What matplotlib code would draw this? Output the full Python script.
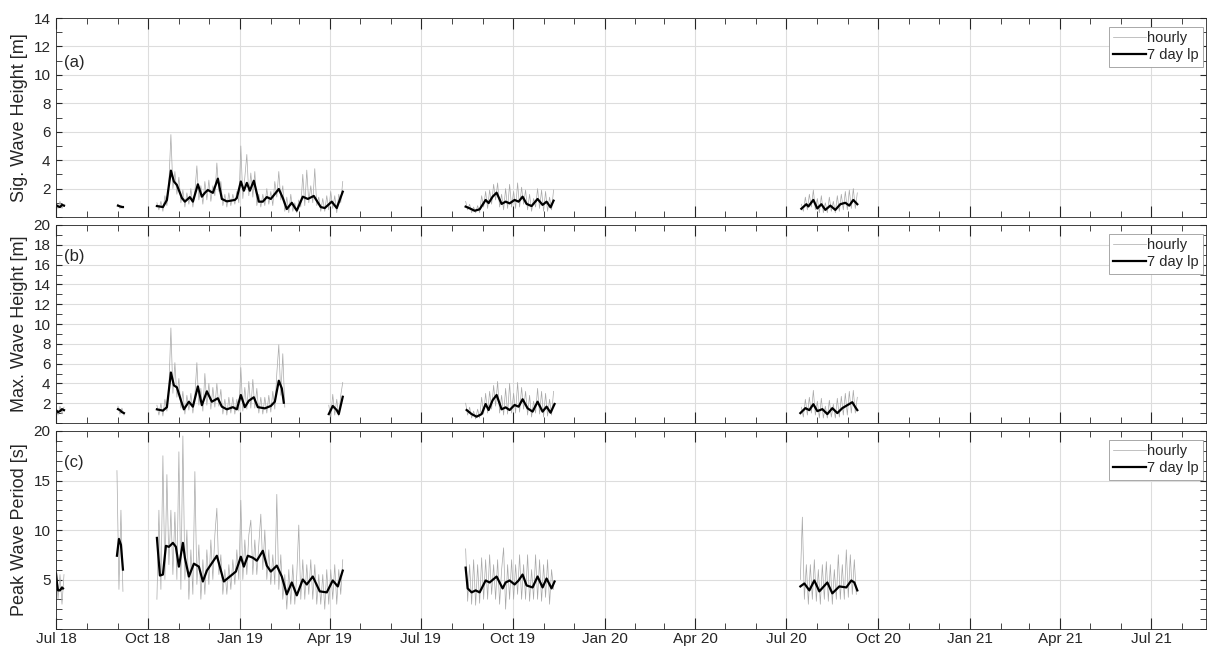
import numpy as np
import matplotlib
matplotlib.use('Agg')
import matplotlib.pyplot as plt
import matplotlib.dates as mdates
from matplotlib.ticker import MultipleLocator, FixedLocator
from datetime import datetime

plt.rcParams['font.family'] = ['Liberation Sans', 'DejaVu Sans']

# day offsets are counted from 1 Jul 2018, hourly samples are stored every 2 days
T0 = mdates.date2num(datetime(2018, 7, 1))
HR_STEP = 2

# (a) significant wave height [m]
hs_lp_days = [
    [0, 2, 4, 6, 8],
    [62, 64, 66, 67],
    [101, 107, 111, 115, 118, 121, 126, 129, 134, 137, 142, 146, 149, 152, 157, 162, 166, 171, 179, 181,
     185, 188, 191, 194, 198, 203, 207, 211, 215, 223, 227, 231, 236, 241, 247, 252, 258, 265, 269, 276,
     281, 287],
    [410, 414, 419, 424, 430, 433, 437, 441, 446, 450, 454, 459, 463, 467, 471, 476, 482, 487, 491, 495, 498],
    [746, 751, 753, 758, 762, 766, 770, 775, 780, 785, 790, 794, 798, 802],
]
hs_lp = [
    [0.85, 0.75, 0.7, 0.85, 0.8],
    [0.8, 0.75, 0.7, 0.7],
    [0.77, 0.7, 1.2, 3.26, 2.5, 2.25, 1.34, 1.08, 1.4, 1.08, 2.3, 1.43, 1.7, 1.9, 1.7, 2.7, 1.27, 1.1, 1.2, 1.34,
     2.5, 1.85, 2.4, 1.85, 2.55, 1.08, 1.08, 1.4, 1.27, 1.97, 1.34, 0.56, 1.0, 0.45, 1.43, 1.27, 1.48, 0.7, 0.63, 1.08,
     0.63, 1.78],
    [0.73, 0.61, 0.44, 0.54, 1.2, 0.98, 1.43, 1.71, 0.92, 1.08, 0.96, 1.2, 1.08, 1.43, 0.92, 0.77, 1.27, 0.85, 1.08, 0.68, 1.15],
    [0.58, 0.9, 0.74, 1.2, 0.6, 0.9, 0.5, 0.8, 0.5, 0.9, 1.0, 0.8, 1.2, 0.9],
]
hs_hr_start = [0, 62, 101, 410, 746]
hs_hr = [
    [1.0, 0.6, 1.1, 0.6, 0.9],
    [0.9, 0.6, 0.8],
    [1.0, 0.5, 1.1, 0.4, 1.5, 0.8, 2.4, 5.8, 2.0, 3.2, 1.6, 2.8, 1.0, 1.9, 0.7, 1.7, 0.9, 2.0, 0.7, 1.8,
     3.6, 1.2, 2.2, 0.9, 2.5, 1.2, 2.6, 1.1, 2.2, 1.5, 3.8, 1.8, 2.5, 0.8, 1.6, 0.7, 1.7, 0.8, 1.6, 0.9,
     1.8, 1.0, 5.0, 1.3, 2.8, 4.4, 1.5, 3.1, 1.4, 3.2, 0.8, 1.6, 0.7, 1.6, 0.8, 2.0, 0.9, 1.8, 0.8, 2.5,
     1.4, 3.2, 1.2, 2.2, 0.4, 1.4, 0.3, 1.6, 0.4, 1.0, 0.3, 1.2, 0.7, 3.0, 0.8, 3.3, 1.0, 2.2, 1.0, 3.4,
     0.8, 1.4, 0.4, 1.3, 0.4, 1.5, 0.5, 1.8, 0.6, 1.5, 0.3, 1.6, 1.0, 2.5],
    [1.1, 0.5, 0.9, 0.3, 0.7, 0.3, 0.8, 0.3, 1.5, 0.7, 1.8, 0.6, 1.9, 0.9, 2.3, 1.2, 2.4, 0.7, 1.6, 0.5,
     2.0, 0.6, 2.3, 0.7, 1.8, 0.6, 2.4, 0.7, 2.1, 0.9, 1.9, 0.5, 1.6, 0.4, 1.3, 0.7, 2.0, 0.6, 1.9, 0.4,
     1.8, 0.4, 1.4, 0.5, 1.9],
    [0.9, 0.4, 1.4, 0.5, 1.6, 0.7, 1.9, 0.5, 1.3, 0.3, 1.5, 0.3, 1.0, 0.3, 1.4, 0.4, 1.1, 0.3, 1.5, 0.4,
     1.6, 0.5, 1.8, 0.5, 1.9, 0.6, 2.0, 0.6, 1.7],
]

# (b) maximum wave height [m]
hm_lp_days = [
    [0, 2, 4, 6, 8],
    [62, 64, 66, 68],
    [101, 107, 111, 115, 118, 121, 125, 128, 133, 137, 142, 146, 151, 156, 162, 166, 171, 177, 181, 185,
     189, 193, 198, 202, 209, 215, 219, 223, 226, 228],
    [273, 277, 281, 283, 287],
    [411, 416, 421, 426, 430, 433, 437, 441, 446, 450, 454, 459, 463, 467, 472, 477, 482, 487, 491, 495, 499],
    [745, 750, 754, 758, 762, 767, 772, 777, 782, 787, 792, 797, 800, 802],
]
hm_lp = [
    [1.3, 1.1, 1.2, 1.4, 1.3],
    [1.4, 1.3, 1.1, 1.0],
    [1.38, 1.25, 1.6, 5.1, 3.8, 3.6, 2.3, 1.38, 2.15, 1.65, 3.7, 1.8, 3.2, 2.15, 2.5, 1.65, 1.38, 1.6, 1.38, 2.83,
     1.6, 2.25, 2.6, 1.6, 1.48, 1.72, 2.15, 4.27, 3.5, 2.05],
    [0.9, 1.72, 1.3, 0.9, 2.65],
    [1.31, 0.9, 0.64, 0.9, 1.92, 1.31, 2.3, 2.83, 1.38, 1.58, 1.31, 1.82, 1.65, 2.4, 1.48, 1.15, 2.15, 1.15, 1.65, 1.04, 1.92],
    [1.0, 1.5, 1.3, 1.9, 1.2, 1.4, 0.9, 1.5, 1.0, 1.5, 1.8, 2.1, 1.6, 1.3],
]
hm_hr_start = [0, 62, 101, 273, 410, 746]
hm_hr = [
    [1.6, 0.8, 1.7, 0.9, 1.6],
    [1.7, 0.9, 1.5, 0.8],
    [1.8, 0.8, 2.0, 0.7, 2.4, 1.2, 3.5, 9.6, 3.0, 6.1, 2.6, 4.5, 1.5, 3.2, 0.9, 2.8, 1.3, 3.0, 1.0, 2.8,
     6.1, 1.8, 3.5, 1.2, 5.0, 1.8, 4.0, 1.4, 3.6, 1.6, 4.0, 1.7, 3.4, 0.9, 2.4, 0.8, 2.6, 1.0, 2.6, 0.9,
     2.4, 1.2, 5.6, 1.2, 3.6, 1.4, 4.2, 1.5, 4.4, 1.5, 3.5, 1.0, 2.6, 0.9, 2.6, 1.0, 2.8, 1.1, 3.2, 1.4,
     5.0, 7.9, 2.8, 7.0, 1.6],
    [1.8, 0.6, 2.9, 0.8, 2.4, 0.7, 2.8, 4.1],
    [2.0, 0.8, 1.6, 0.5, 1.2, 0.4, 1.4, 0.5, 2.6, 0.9, 3.0, 1.0, 3.2, 1.4, 3.8, 1.7, 4.2, 1.0, 2.8, 0.8,
     3.5, 0.9, 4.0, 1.0, 3.0, 1.0, 4.1, 1.1, 3.6, 1.4, 3.2, 0.8, 2.8, 0.6, 2.2, 1.0, 3.5, 0.9, 3.2, 0.6,
     3.0, 0.7, 2.4, 0.8, 3.2],
    [1.6, 0.6, 2.4, 0.8, 2.6, 1.0, 3.3, 0.8, 2.2, 0.5, 2.5, 0.5, 1.7, 0.5, 2.3, 0.6, 1.9, 0.5, 2.5, 0.6,
     2.7, 0.8, 3.0, 0.8, 3.2, 1.0, 3.3, 1.0, 2.6],
]

# (c) peak wave period [s]
tp_lp_days = [
    [0, 1, 2, 4, 6, 7],
    [61, 63, 65, 67],
    [101, 104, 107, 110, 113, 117, 120, 123, 127, 129, 133, 138, 143, 147, 151, 157, 161, 168, 174, 180,
     185, 188, 192, 197, 201, 207, 211, 215, 221, 226, 231, 236, 241, 247, 251, 257, 264, 271, 277, 282, 287],
    [410, 412, 416, 420, 424, 430, 434, 441, 447, 450, 454, 459, 463, 467, 471, 477, 482, 487, 491, 496, 499],
    [745, 749, 754, 759, 764, 772, 777, 784, 791, 796, 799, 802],
]
tp_lp = [
    [5.6, 4.6, 3.9, 3.9, 4.2, 4.1],
    [7.4, 9.1, 8.5, 6.0],
    [9.2, 5.4, 5.5, 8.4, 8.3, 8.7, 8.3, 6.3, 8.7, 7.2, 5.3, 6.6, 6.3, 4.8, 5.9, 6.8, 7.4, 4.8, 5.3, 5.8,
     7.3, 6.3, 7.4, 7.2, 6.9, 7.9, 6.4, 5.8, 6.4, 5.3, 3.5, 4.7, 3.4, 5.0, 4.5, 5.3, 3.8, 3.7, 4.9, 4.3, 5.9],
    [6.2, 4.1, 3.7, 3.9, 3.7, 4.9, 4.7, 5.3, 4.1, 4.7, 4.9, 4.5, 4.9, 5.5, 4.4, 4.2, 5.3, 4.2, 5.1, 4.1, 4.8],
    [4.3, 4.6, 3.9, 4.9, 3.8, 4.7, 3.6, 4.3, 4.2, 4.9, 4.7, 3.9],
]
tp_hr_start = [0, 61, 101, 410, 745]
tp_hr = [
    [7.0, 3.0, 5.5, 2.5, 5.5],
    [16.0, 4.0, 12.0, 3.8],
    [3.0, 12.0, 4.0, 17.5, 5.0, 15.6, 6.5, 12.0, 5.5, 11.8, 5.0, 17.9, 4.0, 19.5, 5.0, 10.0, 3.0, 8.0, 3.5, 15.9,
     4.5, 8.5, 3.0, 7.0, 3.5, 8.0, 4.5, 9.0, 5.0, 9.5, 12.2, 5.5, 7.5, 3.5, 6.0, 3.5, 6.5, 4.0, 7.0, 4.5,
     8.0, 5.0, 13.0, 5.0, 9.0, 5.5, 9.5, 11.0, 5.5, 9.0, 5.5, 8.5, 11.6, 6.0, 10.0, 5.0, 8.0, 4.5, 7.5, 4.5,
     13.6, 4.0, 7.5, 3.0, 5.5, 2.0, 6.0, 2.5, 6.5, 2.5, 5.5, 10.5, 3.0, 7.0, 3.0, 6.5, 3.5, 7.0, 3.0, 6.5,
     2.5, 5.5, 2.5, 5.5, 2.0, 6.0, 2.5, 6.0, 3.0, 6.5, 2.5, 6.0, 3.5, 7.0],
    [8.1, 2.8, 6.5, 2.5, 7.0, 2.4, 6.5, 2.6, 7.2, 3.0, 7.0, 3.0, 7.5, 3.5, 6.5, 3.0, 7.0, 2.5, 6.0, 8.2,
     2.0, 6.5, 3.0, 7.0, 3.0, 6.5, 3.5, 7.5, 3.0, 6.5, 3.0, 7.5, 2.8, 6.0, 3.0, 7.5, 3.0, 7.0, 2.8, 6.5,
     3.2, 7.0, 2.5, 6.0, 4.0],
    [5.0, 11.3, 3.0, 6.5, 2.5, 6.5, 3.0, 7.0, 2.8, 6.0, 2.5, 6.5, 3.0, 6.8, 2.8, 6.5, 2.5, 6.0, 3.0, 7.5,
     3.0, 6.5, 3.0, 8.0, 3.2, 7.5, 3.5, 7.0, 3.5],
]


def join_lp(day_lists, val_lists):
    xs, ys = [], []
    for d, v in zip(day_lists, val_lists):
        xs += list(d) + [d[-1]]
        ys += list(v) + [np.nan]
    return T0 + np.array(xs, float), np.array(ys, float)


def join_hr(starts, val_lists):
    xs, ys = [], []
    for s, v in zip(starts, val_lists):
        d = s + HR_STEP * np.arange(len(v))
        xs += list(d) + [d[-1]]
        ys += list(v) + [np.nan]
    return T0 + np.array(xs, float), np.array(ys, float)


W, H = 1208, 652
fig = plt.figure(figsize=(W / 100, H / 100), dpi=100)
fc = '#262626'
left, right = 56, 1206
boxes = [(18, 217), (225, 423), (431, 629)]

panels = [
    (join_lp(hs_lp_days, hs_lp), join_hr(hs_hr_start, hs_hr), 14, range(2, 15, 2), 'Sig. Wave Height [m]', '(a)', 0.774),
    (join_lp(hm_lp_days, hm_lp), join_hr(hm_hr_start, hm_hr), 20, range(2, 21, 2), 'Max. Wave Height [m]', '(b)', 0.84),
    (join_lp(tp_lp_days, tp_lp), join_hr(tp_hr_start, tp_hr), 20, [5, 10, 15, 20], 'Peak Wave Period [s]', '(c)', 0.84),
]

for i, ((lx, ly), (hx, hy), ymax, yt, ylab, tag, tag_y) in enumerate(panels):
    top, bot = boxes[i]
    ax = fig.add_axes([left / W, 1 - bot / H, (right - left) / W, (bot - top) / H])
    ax.plot(hx, hy, color='#a8a8a8', lw=0.5, label='hourly')
    ax.plot(lx, ly, color='black', lw=1.6, label='7 day lp')
    ax.set_xlim(T0, T0 + 1151)
    ax.set_ylim(0, ymax)
    ax.xaxis_date()
    ax.xaxis.set_major_locator(mdates.MonthLocator(bymonth=[1, 4, 7, 10]))
    ax.xaxis.set_minor_locator(mdates.MonthLocator())
    ax.xaxis.set_major_formatter(mdates.DateFormatter('%b %y'))
    ax.yaxis.set_major_locator(FixedLocator(list(yt)))
    ax.yaxis.set_minor_locator(MultipleLocator(1))
    ax.grid(True, which='major', color='#dddddd', lw=0.8)
    ax.set_axisbelow(True)
    ax.tick_params(which='both', direction='in', top=True, right=True, colors=fc,
                   labelsize=11, labelcolor=fc)
    ax.tick_params(axis='x', which='major', length=8, pad=2)
    ax.tick_params(axis='x', which='minor', length=4)
    ax.tick_params(axis='y', which='major', length=4.5, pad=4)
    ax.tick_params(axis='y', which='minor', length=4)
    for sp in ax.spines.values():
        sp.set_color(fc)
        sp.set_linewidth(0.6)
    if i < 2:
        ax.tick_params(labelbottom=False)
    ax.set_ylabel(ylab, fontsize=13, color=fc)
    ax.yaxis.set_label_coords(-28 / (right - left), 0.5)
    ax.text(0.007, tag_y, tag, transform=ax.transAxes, fontsize=12, va='center', color=fc)
    leg = ax.legend(loc='upper right', bbox_to_anchor=(1 - 3 / (right - left), 1 - 9 / (bot - top)),
                    borderaxespad=0, fontsize=10.5, fancybox=False, edgecolor='#9a9a9a', framealpha=1,
                    handlelength=2.2, handletextpad=0.1, borderpad=0.3, labelspacing=0.2)
    leg.get_frame().set_linewidth(0.6)
    for t in leg.get_texts():
        t.set_color(fc)

fig.savefig('out.png', dpi=100)
